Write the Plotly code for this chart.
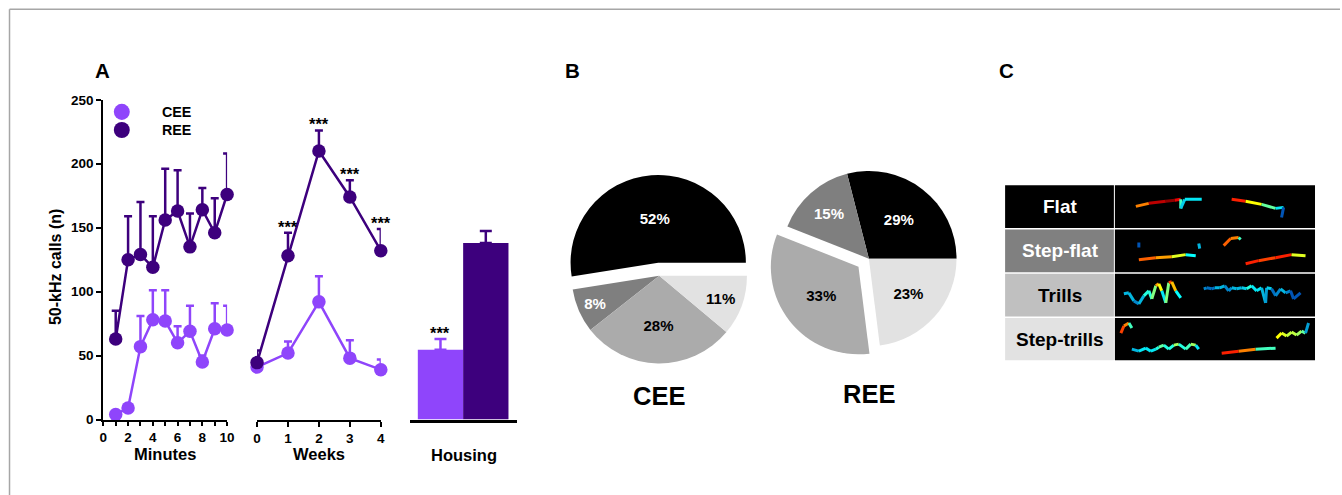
import plotly.graph_objects as go
from plotly.colors import sample_colorscale

# Layout is specified in page pixels; these constants convert page pixels to
# figure pixels for the viewer the page is shown in.
PAGE_W, PAGE_H = 1342, 495
SX, SY = 0.993, 0.965
OX, OY = 3.5, 8.0
W = round(PAGE_W / SX - OX)
H = round(PAGE_H / SY - OY)
FONT = "Liberation Sans, Arial, sans-serif"
CEE_COLOR = "#8f45fb"
REE_COLOR = "#3d007d"

# ---- Panel A: 50-kHz calls over minutes, weeks and by housing ----
minutes = [1, 2, 3, 4, 5, 6, 7, 8, 9, 10]
cee_min_mean = [4, 9, 57, 78, 77, 60, 69, 45, 71, 70]
cee_min_sem = [2, 3, 24, 23, 24, 13, 20, 5, 20, 19]
ree_min_mean = [63, 125, 129, 119, 156, 163, 135, 164, 146, 176]
ree_min_sem = [22, 34, 41, 40, 40, 32, 26, 17, 27, 32]

weeks = [0, 1, 2, 3, 4]
cee_wk_mean = [41, 52, 92, 48, 39]
cee_wk_sem = [3, 9, 20, 14, 8]
ree_wk_mean = [44.5, 128, 210, 174, 132]
ree_wk_sem = [9.5, 18, 16, 13, 17]
wk_signif = ["", "***", "***", "***", "***"]

housing_groups = ["CEE", "REE"]
housing_mean = [54.5, 138]
housing_sem = [8.5, 9.5]
housing_signif = ["***", ""]

# ---- Panel B: call-type proportions ----
call_types = ["Flat", "Step-flat", "Trills", "Step-trills"]
type_colors = ["#000000", "#7f7f7f", "#ababab", "#e2e2e2"]
type_text_colors = ["white", "white", "black", "black"]
cee_pct = [52, 8, 28, 11]
ree_pct = [29, 15, 33, 23]
cee_pull = [0.15, 0, 0, 0]
ree_pull = [0, 0, 0.15, 0]

# ---- Panel C: sketched spectrogram contours (x, y within strip, intensity 0-1) ----
flat_a_x = [21, 34, 51, 60, 66, 66, 70, 87]
flat_a_y = [21, 18, 16, 15, 14, 23, 14, 14]
flat_a_v = [0.6, 0.8, 1.0, 0.95, 0.7, 0.2, 0.5, 0.25]
flat_b_x = [117, 131, 147, 161, 169, 167]
flat_b_y = [14, 16, 19, 23, 22, 32]
flat_b_v = [0.85, 0.7, 0.5, 0.45, 0.3, 0.15]

stepflat_a_x = [24, 24]
stepflat_a_y = [57, 62]
stepflat_a_v = [0.2, 0.25]
stepflat_b_x = [24, 41, 57, 71, 81]
stepflat_b_y = [74, 72, 71, 69, 70]
stepflat_b_v = [0.7, 0.75, 0.6, 0.55, 0.25]
stepflat_c_x = [84, 85]
stepflat_c_y = [58, 63]
stepflat_c_v = [0.35, 0.3]
stepflat_d_x = [109, 116, 124, 126]
stepflat_d_y = [60, 53, 52, 54]
stepflat_d_v = [0.65, 0.8, 0.6, 0.3]
stepflat_e_x = [131, 144, 161, 177, 191]
stepflat_e_y = [78, 75, 72, 69, 70]
stepflat_e_v = [0.75, 0.8, 0.7, 0.85, 0.3]

trill_a_x = [9, 14, 19, 24, 29, 34, 37, 41, 44, 47, 51, 54, 57, 61, 66]
trill_a_y = [108, 107, 115, 118, 110, 105, 113, 100, 98, 105, 117, 97, 96, 105, 112]
trill_a_v = [0.3, 0.35, 0.3, 0.25, 0.4, 0.45, 0.4, 0.6, 0.75, 0.45, 0.3, 0.7, 0.8, 0.5, 0.3]
trill_b_x = [89, 92, 97, 100, 105, 110, 114, 117, 122, 127, 132, 137, 142, 147, 151, 152, 157, 161, 166, 171, 176, 179, 186]
trill_b_y = [103, 102, 103, 102, 102, 100, 105, 102, 103, 102, 103, 100, 105, 102, 117, 102, 103, 110, 103, 107, 105, 113, 107]
trill_b_v = [0.25, 0.3, 0.2, 0.3, 0.35, 0.3, 0.25, 0.3, 0.35, 0.3, 0.4, 0.45, 0.3, 0.45, 0.2, 0.4, 0.3, 0.2, 0.35, 0.3, 0.25, 0.2, 0.25]

steptrill_a_x = [6, 9, 14, 17]
steptrill_a_y = [147, 140, 137, 142]
steptrill_a_v = [0.7, 0.8, 0.6, 0.3]
steptrill_b_x = [17, 24, 31, 36, 41, 44, 49, 54, 59, 64, 71, 76, 81, 84]
steptrill_b_y = [163, 165, 162, 165, 163, 161, 159, 163, 159, 158, 163, 158, 159, 163]
steptrill_b_v = [0.3, 0.35, 0.4, 0.35, 0.4, 0.45, 0.5, 0.35, 0.5, 0.55, 0.3, 0.6, 0.45, 0.3]
steptrill_c_x = [107, 124, 141, 161]
steptrill_c_y = [167, 165, 163, 162]
steptrill_c_v = [0.75, 0.8, 0.6, 0.3]
steptrill_d_x = [162, 167, 172, 177, 182, 187, 191, 194]
steptrill_d_y = [152, 147, 150, 146, 149, 145, 147, 137]
steptrill_d_v = [0.55, 0.65, 0.5, 0.6, 0.5, 0.55, 0.4, 0.2]

spectro_calls = [
    (flat_a_x, flat_a_y, flat_a_v), (flat_b_x, flat_b_y, flat_b_v),
    (stepflat_a_x, stepflat_a_y, stepflat_a_v), (stepflat_b_x, stepflat_b_y, stepflat_b_v),
    (stepflat_c_x, stepflat_c_y, stepflat_c_v), (stepflat_d_x, stepflat_d_y, stepflat_d_v),
    (stepflat_e_x, stepflat_e_y, stepflat_e_v),
    (trill_a_x, trill_a_y, trill_a_v), (trill_b_x, trill_b_y, trill_b_v),
    (steptrill_a_x, steptrill_a_y, steptrill_a_v), (steptrill_b_x, steptrill_b_y, steptrill_b_v),
    (steptrill_c_x, steptrill_c_y, steptrill_c_v), (steptrill_d_x, steptrill_d_y, steptrill_d_v),
]


def fx(p):
    """page pixel x -> paper fraction"""
    return (p / SX - OX) / W


def fy(p):
    """page pixel y (from top) -> paper fraction"""
    return 1 - (p / SY - OY) / H


def bold(size, color="black"):
    return dict(family=FONT, size=size, color=color, weight="bold")


def up_err(sem, color, width=4):
    return dict(type="data", array=sem, arrayminus=[0] * len(sem), symmetric=False,
                color=color, thickness=2.5, width=width)


def label(text, x, y, size, color="black", **kw):
    d = dict(text=text, xref="paper", yref="paper", x=fx(x), y=fy(y), xanchor="center",
             yanchor="middle", showarrow=False, font=bold(size, color))
    d.update(kw)
    return d


def start_rotation(values):
    # first slice begins at 3 o'clock and runs counterclockwise
    return 90 - 360 * values[0] / sum(values)


fig = go.Figure()

# Minutes
for mean, sem, col in [(cee_min_mean, cee_min_sem, CEE_COLOR), (ree_min_mean, ree_min_sem, REE_COLOR)]:
    fig.add_trace(go.Scatter(x=minutes, y=mean, mode="lines+markers", xaxis="x", yaxis="y",
                             line=dict(color=col, width=2.5), marker=dict(color=col, size=13.5),
                             error_y=up_err(sem, col), cliponaxis=False, showlegend=False))

# Weeks
for mean, sem, col in [(cee_wk_mean, cee_wk_sem, CEE_COLOR), (ree_wk_mean, ree_wk_sem, REE_COLOR)]:
    fig.add_trace(go.Scatter(x=weeks, y=mean, mode="lines+markers", xaxis="x2", yaxis="y2",
                             line=dict(color=col, width=2.5), marker=dict(color=col, size=13.5),
                             error_y=up_err(sem, col), cliponaxis=False, showlegend=False))

# Housing bars
for i, col in enumerate([CEE_COLOR, REE_COLOR]):
    fig.add_trace(go.Bar(x=[i], y=[housing_mean[i]], width=1, xaxis="x3", yaxis="y3",
                         name=housing_groups[i], marker=dict(color=col, line=dict(width=0)),
                         error_y=dict(type="data", array=[housing_sem[i]], arrayminus=[0], symmetric=False,
                                      color=col, thickness=2.5, width=6),
                         showlegend=False, cliponaxis=False))

# Pies
pie_font = dict(family=FONT, size=15, color=type_text_colors, weight="bold")
fig.add_trace(go.Pie(values=cee_pct, labels=call_types, text=[f"{v}%" for v in cee_pct],
                     textinfo="text", sort=False, direction="counterclockwise",
                     rotation=start_rotation(cee_pct),
                     pull=cee_pull, marker=dict(colors=type_colors, line=dict(width=0)),
                     textposition="inside", insidetextorientation="horizontal", textfont=pie_font,
                     domain=dict(x=[fx(559), fx(761)], y=[fy(376), fy(174)]), showlegend=False))
fig.add_trace(go.Pie(values=ree_pct, labels=call_types, text=[f"{v}%" for v in ree_pct],
                     textinfo="text", sort=False, direction="counterclockwise",
                     rotation=start_rotation(ree_pct),
                     pull=ree_pull, marker=dict(colors=type_colors, line=dict(width=0)),
                     textposition="inside", insidetextorientation="horizontal", textfont=pie_font,
                     domain=dict(x=[fx(769), fx(971)], y=[fy(359), fy(157)]), showlegend=False))

# Spectrogram contours, each segment coloured on a jet scale
for xs, ys, vs in spectro_calls:
    for i in range(len(xs) - 1):
        c = sample_colorscale("Jet", [(vs[i] + vs[i + 1]) / 2])[0]
        fig.add_trace(go.Scatter(x=xs[i:i + 2], y=ys[i:i + 2], mode="lines", xaxis="x5", yaxis="y5",
                                 line=dict(color=c, width=3), hoverinfo="skip", showlegend=False))

Y_DOM = [fy(418), fy(100)]
axis_common = dict(showgrid=False, zeroline=False, linecolor="black", linewidth=2,
                   ticks="outside", tickcolor="black", tickwidth=2,
                   tickfont=bold(13.5))
fig.update_layout(
    width=W, height=H, margin=dict(l=0, r=0, t=0, b=0),
    paper_bgcolor="white", plot_bgcolor="rgba(0,0,0,0)",
    font=dict(family=FONT),
    xaxis=dict(domain=[fx(103), fx(227)], range=[0, 10], showline=True,
               tickvals=list(range(0, 11)), ticktext=["0", "", "2", "", "4", "", "6", "", "8", "", "10"],
               ticklen=4, anchor="y", **axis_common),
    yaxis=dict(domain=Y_DOM, range=[0, 250], showline=True, tickvals=[0, 50, 100, 150, 200, 250],
               ticklen=5, anchor="x", **axis_common),
    xaxis2=dict(domain=[fx(257), fx(381)], range=[0, 4], showline=True, tickvals=weeks,
                ticklen=5, anchor="y2", **axis_common),
    yaxis2=dict(domain=Y_DOM, range=[0, 250], visible=False, anchor="x2"),
    xaxis3=dict(domain=[fx(410), fx(517)], range=[-0.678, 1.678], showline=True, linewidth=2.5,
                linecolor="black", showticklabels=False, ticks="", showgrid=False, zeroline=False,
                anchor="y3"),
    yaxis3=dict(domain=Y_DOM, range=[0, 250], visible=False, anchor="x3"),
    xaxis5=dict(domain=[fx(1116.5), fx(1317)], range=[0, 200.5], visible=False, anchor="y5"),
    yaxis5=dict(domain=[fy(359), fy(185)], range=[174, 0], visible=False, anchor="x5"),
)

shapes = []
annotations = []

# frame
shapes.append(dict(type="line", xref="paper", yref="paper", x0=fx(9), x1=1, y0=fy(10), y1=fy(10),
                   line=dict(color="#a6a6a6", width=1.5)))
shapes.append(dict(type="line", xref="paper", yref="paper", x0=fx(9), x1=fx(9), y0=fy(10), y1=0,
                   line=dict(color="#a6a6a6", width=1.5)))

# legend of panel A
for cy, col, name in [(112, CEE_COLOR, "CEE"), (130, REE_COLOR, "REE")]:
    shapes.append(dict(type="circle", xref="paper", yref="paper", x0=fx(113.5), x1=fx(129.5),
                       y0=fy(cy + 8), y1=fy(cy - 8), fillcolor=col, line=dict(width=0)))
    annotations.append(label(name, 160, cy, 14.3, xanchor="left"))

# significance stars
for w, m, s, t in zip(weeks, ree_wk_mean, ree_wk_sem, wk_signif):
    if t:
        annotations.append(dict(text=t, xref="x2", yref="y2", x=w, y=m + s, xanchor="center",
                                yanchor="bottom", yshift=-5, showarrow=False, font=bold(16.5)))
for i, (m, s, t) in enumerate(zip(housing_mean, housing_sem, housing_signif)):
    if t:
        annotations.append(dict(text=t, xref="x3", yref="y3", x=i, y=m + s, xanchor="center",
                                yanchor="bottom", yshift=-5, showarrow=False, font=bold(16.5)))

# axis titles and panel letters
annotations += [
    label("50-kHz calls (n)", 55, 266, 16, textangle=-90),
    label("Minutes", 165, 452, 16.5),
    label("Weeks", 319, 452, 16.5),
    label("Housing", 464, 453, 16.5),
    label("A", 102, 71, 20.5),
    label("B", 573, 71, 20.5),
    label("C", 1008, 71, 20.5),
    label("CEE", 660, 395, 25.5),
    label("REE", 870, 393, 25.5),
]

# panel C table
row_edges = [(185, 227.5), (229, 271.5), (273, 315.5), (317, 359)]
for (t, b), name, fill, tcol in zip(row_edges, call_types, ["#000000", "#808080", "#c0c0c0", "#e2e2e2"],
                                    type_text_colors):
    shapes.append(dict(type="rect", xref="paper", yref="paper", x0=fx(1006.5), x1=fx(1115.5),
                       y0=fy(b), y1=fy(t), fillcolor=fill, line=dict(width=0), layer="below"))
    shapes.append(dict(type="rect", xref="paper", yref="paper", x0=fx(1116.5), x1=fx(1317),
                       y0=fy(b), y1=fy(t), fillcolor="black", line=dict(width=0), layer="below"))
    annotations.append(label(name, 1062, (t + b) / 2, 19, tcol))

fig.update_layout(shapes=shapes, annotations=annotations)
fig.write_html("out.html")
